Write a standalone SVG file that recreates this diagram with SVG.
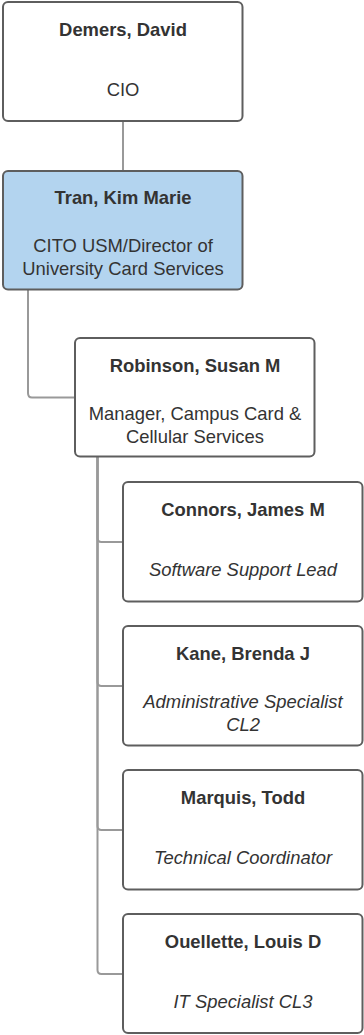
<svg xmlns="http://www.w3.org/2000/svg" width="364" height="1035" viewBox="0 0 364 1035">
<style>
.box{fill:#ffffff;stroke:#5e5e5e;stroke-width:2}
.hl{fill:#b3d4ef}
.name{font-family:"Liberation Sans",Arial,sans-serif;font-size:18.4px;font-weight:bold;fill:#333333;text-anchor:middle}
.role{font-family:"Liberation Sans",Arial,sans-serif;font-size:18.4px;fill:#333333;text-anchor:middle}
.it{font-style:italic}
.conn{fill:none;stroke:#999999;stroke-width:2}
</style>
<rect width="364" height="1035" fill="#ffffff"/>
<g id="connectors">
<path class="conn" d="M123 121 L123 171"/>
<path class="conn" d="M28 290 L28 393 Q28 397.5 32 397.5 L75 397.5"/>
<path class="conn" d="M97.5 457 L97.5 538 Q97.5 542 101.5 542 L123 542"/>
<path class="conn" d="M97.5 457 L97.5 682 Q97.5 686 101.5 686 L123 686"/>
<path class="conn" d="M97.5 457 L97.5 826 Q97.5 830 101.5 830 L123 830"/>
<path class="conn" d="M97.5 457 L97.5 970 Q97.5 974 101.5 974 L123 974"/>
</g>
<g id="demers">
<rect class="box" x="3" y="2" width="239.5" height="119" rx="5"/>
<text class="name" x="123" y="35.5">Demers, David</text>
<text class="role" x="123" y="95.5">CIO</text>
</g>
<g id="tran">
<rect class="box hl" x="3" y="171" width="239.5" height="118.5" rx="5"/>
<text class="name" x="123" y="203.5">Tran, Kim Marie</text>
<text class="role" x="123" y="252">CITO USM/Director of</text>
<text class="role" x="123" y="275">University Card Services</text>
</g>
<g id="robinson">
<rect class="box" x="75" y="338" width="239.5" height="118.5" rx="5"/>
<text class="name" x="195" y="372">Robinson, Susan M</text>
<text class="role" x="195" y="420">Manager, Campus Card &amp;</text>
<text class="role" x="195" y="443">Cellular Services</text>
</g>
<g id="connors">
<rect class="box" x="123" y="482" width="239.5" height="119.5" rx="5"/>
<text class="name" x="243" y="516">Connors, James M</text>
<text class="role it" x="243" y="575.5">Software Support Lead</text>
</g>
<g id="kane">
<rect class="box" x="123" y="626" width="239.5" height="119.5" rx="5"/>
<text class="name" x="243" y="660">Kane, Brenda J</text>
<text class="role it" x="243" y="708">Administrative Specialist</text>
<text class="role it" x="243" y="731">CL2</text>
</g>
<g id="marquis">
<rect class="box" x="123" y="770" width="239.5" height="119.5" rx="5"/>
<text class="name" x="243" y="804">Marquis, Todd</text>
<text class="role it" x="243" y="863.5">Technical Coordinator</text>
</g>
<g id="ouellette">
<rect class="box" x="123" y="914" width="239.5" height="119" rx="5"/>
<text class="name" x="243" y="948">Ouellette, Louis D</text>
<text class="role it" x="243" y="1007.5">IT Specialist CL3</text>
</g>
</svg>
